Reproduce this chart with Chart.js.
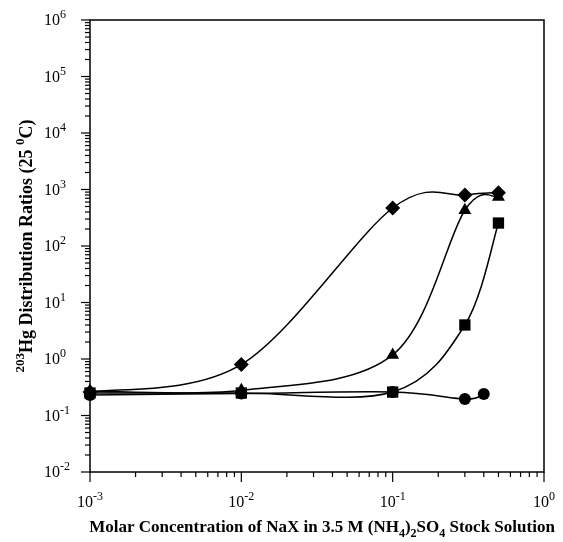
<!DOCTYPE html>
<html>
<head>
<meta charset="utf-8">
<script src="https://cdn.jsdelivr.net/npm/chart.js@4/dist/chart.umd.min.js"></script>
<style>
  html, body { margin: 0; padding: 0; background: #fff; }
  #wrap { width: 563px; height: 542px; }
</style>
</head>
<body>
<div id="wrap"><canvas id="chart"></canvas></div>
<script>
// concentrations of NaX (M) and distribution ratios
const diamondX = [0.001, 0.01, 0.1, 0.3, 0.5];
const diamondY = [0.26, 0.8, 470, 800, 880];
const triangleX = [0.001, 0.01, 0.1, 0.3, 0.5];
const triangleY = [0.27, 0.28, 1.18, 430, 740];
const squareX = [0.001, 0.01, 0.1, 0.3, 0.5];
const squareY = [0.25, 0.25, 0.26, 4.0, 255];
const circleX = [0.001, 0.01, 0.1, 0.3, 0.4];
const circleY = [0.23, 0.245, 0.26, 0.196, 0.24];

const xDecades = [-3, -2, -1, 0];
const yDecades = [-2, -1, 0, 1, 2, 3, 4, 5, 6];

const SERIF = '"Liberation Serif", "Times New Roman", serif';

function toPoints(xs, ys) {
    return xs.map((x, i) => ({ x: x, y: ys[i] }));
}

function makeSet(label, xs, ys, style, radius) {
    return {
        label: label,
        data: toPoints(xs, ys),
        borderColor: '#000',
        backgroundColor: '#000',
        borderWidth: 1.5,
        pointStyle: style,
        pointRadius: radius,
        pointBorderWidth: 0,
        tension: 0.4,
        clip: false
    };
}

// draws a list of text runs, some raised or lowered
function drawRuns(ctx, runs, x, y, size, weight, align) {
    const parts = runs.map(r => {
        const s = r.mode === 'n' ? size : Math.round(size * 0.72);
        ctx.font = `${weight} ${s}px ${SERIF}`;
        return { t: r.t, mode: r.mode, s: s, w: ctx.measureText(r.t).width };
    });
    const total = parts.reduce((a, p) => a + p.w, 0);
    let cx = align === 'center' ? x - total / 2 : (align === 'right' ? x - total : x);
    parts.forEach(p => {
        ctx.font = `${weight} ${p.s}px ${SERIF}`;
        let dy = 0;
        if (p.mode === 'sup') dy = -size * 0.42;
        if (p.mode === 'sub') dy = size * 0.28;
        ctx.fillText(p.t, cx, y + dy);
        cx += p.w;
    });
}

// spreadsheet-style smoothing: uniform catmull-rom control points
const smooth = {
    id: 'smooth',
    beforeDatasetsDraw(chart) {
        chart.data.datasets.forEach((ds, i) => {
            const meta = chart.getDatasetMeta(i);
            const pts = meta.data;
            for (let k = 0; k < pts.length; k++) {
                const p = pts[k];
                const prev = pts[Math.max(k - 1, 0)];
                const next = pts[Math.min(k + 1, pts.length - 1)];
                const dx = (next.x - prev.x) / 6;
                const dy = (next.y - prev.y) / 6;
                p.cp1x = p.x - dx;
                p.cp1y = p.y - dy;
                p.cp2x = p.x + dx;
                p.cp2y = p.y + dy;
            }
            meta.dataset._pointsUpdated = true;
        });
    }
};

const frame = {
    id: 'frame',
    afterDraw(chart) {
        const ctx = chart.ctx;
        const area = chart.chartArea;
        const xs = chart.scales.x;
        const ys = chart.scales.y;
        ctx.save();
        ctx.strokeStyle = '#000';
        ctx.fillStyle = '#000';
        ctx.textBaseline = 'alphabetic';

        // box
        ctx.lineWidth = 1.5;
        ctx.strokeRect(area.left, area.top, area.right - area.left, area.bottom - area.top);

        // y ticks and labels
        ctx.lineWidth = 1.2;
        yDecades.forEach(d => {
            const py = ys.getPixelForValue(Math.pow(10, d));
            ctx.beginPath();
            ctx.moveTo(area.left - 9, py);
            ctx.lineTo(area.left, py);
            ctx.stroke();
            if (d < 6) {
                for (let m = 2; m <= 9; m++) {
                    const my = ys.getPixelForValue(m * Math.pow(10, d));
                    ctx.beginPath();
                    ctx.moveTo(area.left - 5, my);
                    ctx.lineTo(area.left, my);
                    ctx.stroke();
                }
            }
            drawRuns(ctx, [{ t: '10', mode: 'n' }, { t: String(d), mode: 'sup' }],
                44, py + 5, 16, 'normal', 'left');
        });

        // x ticks and labels
        xDecades.forEach(d => {
            const px = xs.getPixelForValue(Math.pow(10, d));
            ctx.beginPath();
            ctx.moveTo(px, area.bottom);
            ctx.lineTo(px, area.bottom + 10);
            ctx.stroke();
            if (d < 0) {
                for (let m = 2; m <= 9; m++) {
                    const mx = xs.getPixelForValue(m * Math.pow(10, d));
                    ctx.beginPath();
                    ctx.moveTo(mx, area.bottom);
                    ctx.lineTo(mx, area.bottom + 5);
                    ctx.stroke();
                }
            }
            drawRuns(ctx, [{ t: '10', mode: 'n' }, { t: String(d), mode: 'sup' }],
                px, 507, 16, 'normal', 'center');
        });

        // axis titles
        drawRuns(ctx, [
            { t: 'Molar Concentration of NaX in 3.5 M (NH', mode: 'n' },
            { t: '4', mode: 'sub' },
            { t: ')', mode: 'n' },
            { t: '2', mode: 'sub' },
            { t: 'SO', mode: 'n' },
            { t: '4', mode: 'sub' },
            { t: ' Stock Solution', mode: 'n' }
        ], 322, 532, 17, 'bold', 'center');

        ctx.save();
        ctx.translate(32, 246);
        ctx.rotate(-Math.PI / 2);
        drawRuns(ctx, [
            { t: '203', mode: 'sup' },
            { t: 'Hg Distribution Ratios (25 ', mode: 'n' },
            { t: '0', mode: 'sup' },
            { t: 'C)', mode: 'n' }
        ], 0, 0, 18, 'bold', 'center');
        ctx.restore();

        ctx.restore();
    }
};

new Chart(document.getElementById('chart'), {
    type: 'line',
    data: {
        datasets: [
            makeSet('circles', circleX, circleY, 'circle', 6),
            makeSet('squares', squareX, squareY, 'rect', 8),
            makeSet('triangles', triangleX, triangleY, 'triangle', 7.5),
            makeSet('diamonds', diamondX, diamondY, 'rectRot', 7.5)
        ]
    },
    options: {
        responsive: true,
        maintainAspectRatio: false,
        animation: false,
        layout: { padding: { top: 20, right: 19, left: 0, bottom: 0 } },
        scales: {
            x: {
                type: 'logarithmic',
                min: 0.001,
                max: 1,
                grid: { display: false },
                border: { display: false },
                ticks: { display: false },
                afterFit: s => { s.height = 70; }
            },
            y: {
                type: 'logarithmic',
                min: 0.01,
                max: 1e6,
                grid: { display: false },
                border: { display: false },
                ticks: { display: false },
                afterFit: s => { s.width = 90; }
            }
        },
        plugins: {
            legend: { display: false },
            tooltip: { enabled: false }
        }
    },
    plugins: [smooth, frame]
});
</script>
</body>
</html>
